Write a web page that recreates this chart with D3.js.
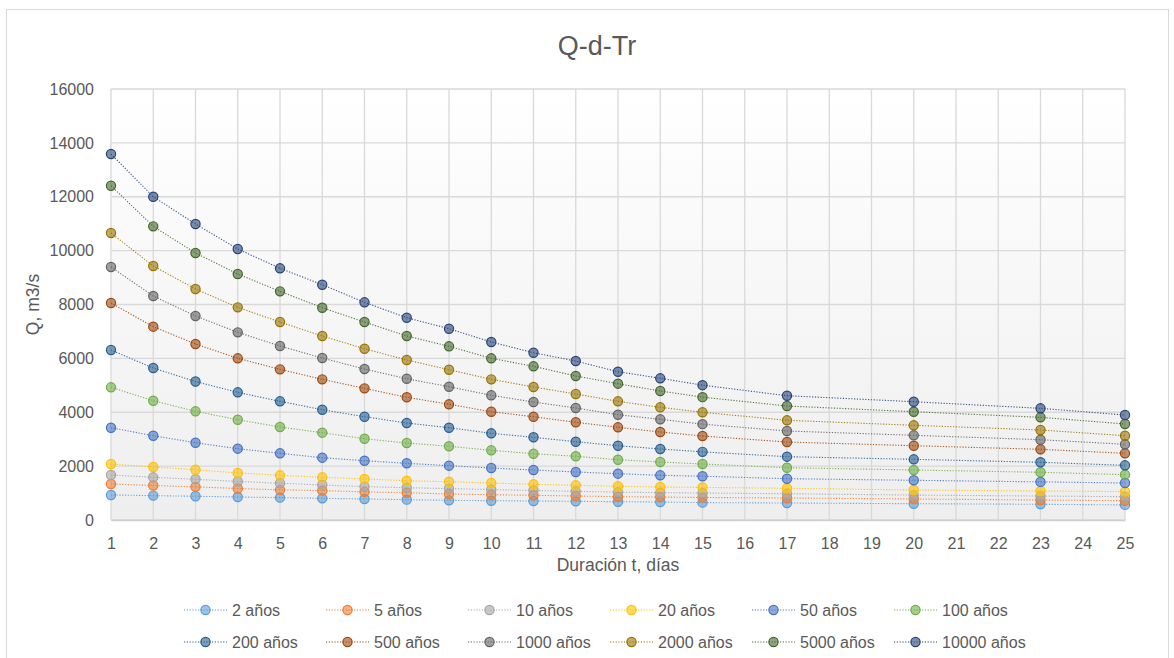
<!DOCTYPE html>
<html>
<head>
<meta charset="utf-8">
<script src="https://cdn.jsdelivr.net/npm/d3@7"></script>
<style>
  html, body { margin: 0; padding: 0; background: #ffffff; }
  svg { display: block; }
  text { font-family: "Liberation Sans", Arial, sans-serif; fill: #595959; }
</style>
</head>
<body>
<svg id="chart" width="1174" height="658"></svg>
<script>
// ---- data ----
const durations = [1, 2, 3, 4, 5, 6, 7, 8, 9, 10, 11, 12, 13, 14, 15, 17, 20, 23, 25];
const seriesNames = ["2 años", "5 años", "10 años", "20 años", "50 años", "100 años",
                     "200 años", "500 años", "1000 años", "2000 años", "5000 años", "10000 años"];
const q2     = [930, 905, 880, 855, 830, 805, 780, 755, 730, 716, 705, 694, 679, 668, 645, 631, 605, 583, 560];
const q5     = [1336, 1280, 1230, 1170, 1120, 1090, 1045, 1013, 965, 939, 917, 891, 865, 854, 835, 817, 780, 742, 716];
const q10    = [1670, 1585, 1511, 1430, 1365, 1299, 1240, 1199, 1165, 1130, 1095, 1065, 1035, 1015, 1000, 975, 925, 890, 865];
const q20    = [2079, 1967, 1867, 1745, 1659, 1585, 1522, 1459, 1422, 1373, 1325, 1288, 1251, 1225, 1210, 1177, 1114, 1076, 1055];
const q50    = [3426, 3129, 2869, 2647, 2476, 2313, 2201, 2105, 2016, 1930, 1856, 1782, 1719, 1659, 1625, 1533, 1474, 1415, 1373];
const q100   = [4926, 4428, 4035, 3723, 3452, 3241, 3018, 2858, 2736, 2587, 2461, 2365, 2238, 2153, 2079, 1941, 1856, 1771, 1682];
const q200   = [6310, 5642, 5140, 4740, 4406, 4094, 3834, 3601, 3426, 3218, 3070, 2906, 2758, 2636, 2530, 2350, 2253, 2142, 2030];
const q500   = [8055, 7176, 6533, 6002, 5593, 5222, 4888, 4555, 4295, 4020, 3834, 3627, 3441, 3267, 3118, 2895, 2758, 2624, 2476];
const q1000  = [9391, 8315, 7572, 6967, 6459, 6013, 5605, 5245, 4948, 4629, 4380, 4157, 3909, 3738, 3558, 3304, 3144, 2981, 2810];
const q2000  = [10653, 9428, 8575, 7895, 7350, 6830, 6359, 5939, 5579, 5222, 4937, 4677, 4406, 4183, 3998, 3701, 3515, 3341, 3129];
const q5000  = [12410, 10902, 9911, 9132, 8489, 7881, 7350, 6830, 6448, 6002, 5705, 5345, 5060, 4788, 4560, 4232, 4020, 3812, 3564];
const q10000 = [13586, 12001, 10988, 10060, 9343, 8735, 8081, 7509, 7101, 6607, 6210, 5902, 5505, 5260, 5005, 4614, 4391, 4146, 3898];
const xTicks = d3.range(1, 26);
const yTicks = [0, 2000, 4000, 6000, 8000, 10000, 12000, 14000, 16000];
const chartTitle = "Q-d-Tr";
const xTitle = "Duración t, días";
const yTitle = "Q, m3/s";
const colors = ["#5B9BD5", "#ED7D31", "#A5A5A5", "#FFC000", "#4472C4", "#70AD47",
                "#255E91", "#9E480E", "#636363", "#997300", "#43682B", "#264478"];

const seriesValues = [q2, q5, q10, q20, q50, q100, q200, q500, q1000, q2000, q5000, q10000];
const series = seriesNames.map((name, i) => ({
  name, color: colors[i],
  points: durations.map((d, j) => ({ x: d, y: seriesValues[i][j] }))
}));

// ---- layout ----
const svg = d3.select("#chart");
const plot = { left: 111, right: 1125, top: 89, bottom: 520 };
const x = d3.scaleLinear().domain([1, 25]).range([plot.left, plot.right]);
const y = d3.scaleLinear().domain([0, 16000]).range([plot.bottom, plot.top]);

// chart border
svg.append("rect").attr("x", 6.5).attr("y", 9.5).attr("width", 1162).attr("height", 660)
  .attr("fill", "#ffffff").attr("stroke", "#d9d9d9").attr("stroke-width", 1);

// plot background gradient
const defs = svg.append("defs");
const grad = defs.append("linearGradient").attr("id", "bg").attr("x1", 0).attr("y1", 0).attr("x2", 0).attr("y2", 1);
grad.append("stop").attr("offset", "0%").attr("stop-color", "#ffffff");
grad.append("stop").attr("offset", "100%").attr("stop-color", "#eeeeee");
svg.append("rect").attr("x", plot.left).attr("y", plot.top)
  .attr("width", plot.right - plot.left).attr("height", plot.bottom - plot.top)
  .attr("fill", "url(#bg)");

// gridlines
const gridColor = "#d9d9d9";
svg.append("g").selectAll("line").data(yTicks).join("line")
  .attr("x1", plot.left).attr("x2", plot.right)
  .attr("y1", d => y(d)).attr("y2", d => y(d))
  .attr("stroke", gridColor).attr("stroke-width", 1.3);
svg.append("g").selectAll("line").data(xTicks).join("line")
  .attr("x1", d => x(d)).attr("x2", d => x(d))
  .attr("y1", plot.top).attr("y2", plot.bottom)
  .attr("stroke", gridColor).attr("stroke-width", 1.3);

// x axis
const xAxis = svg.append("g").attr("transform", `translate(0,${plot.bottom})`)
  .call(d3.axisBottom(x).tickValues(xTicks).tickFormat(d3.format("d")).tickSize(0).tickPadding(18));
xAxis.select(".domain").attr("stroke", "#cfcfcf").attr("stroke-width", 1.5);
xAxis.selectAll("text").attr("font-size", 16).attr("fill", "#595959")
  .attr("font-family", "Liberation Sans, Arial, sans-serif");

// y axis
const yAxis = svg.append("g").attr("transform", `translate(${plot.left},0)`)
  .call(d3.axisLeft(y).tickValues(yTicks).tickFormat(d3.format("d")).tickSize(0).tickPadding(17));
yAxis.select(".domain").remove();
yAxis.selectAll("text").attr("font-size", 16).attr("fill", "#595959")
  .attr("font-family", "Liberation Sans, Arial, sans-serif");

// titles
svg.append("text").attr("x", 597).attr("y", 55).attr("text-anchor", "middle")
  .attr("font-size", 27).text(chartTitle);
svg.append("text").attr("x", (plot.left + plot.right) / 2).attr("y", 571).attr("text-anchor", "middle")
  .attr("font-size", 17.5).text(xTitle);
svg.append("text").attr("transform", `translate(39,${(plot.top + plot.bottom) / 2}) rotate(-90)`)
  .attr("text-anchor", "middle").attr("font-size", 17.5).text(yTitle);

// series
const line = d3.line().x(d => x(d.x)).y(d => y(d.y));
const gSeries = svg.append("g");
series.forEach(s => {
  const g = gSeries.append("g");
  g.append("path").attr("d", line(s.points)).attr("fill", "none")
    .attr("stroke", s.color).attr("stroke-width", 1.1).attr("stroke-dasharray", "1.2,1.6")
    .attr("stroke-opacity", 0.9);
  g.selectAll("circle").data(s.points).join("circle")
    .attr("cx", d => x(d.x)).attr("cy", d => y(d.y)).attr("r", 4.6)
    .attr("fill", s.color).attr("fill-opacity", 0.6)
    .attr("stroke", s.color).attr("stroke-width", 1.2);
});

// legend
const legend = svg.append("g");
series.forEach((s, i) => {
  const col = i % 6, row = Math.floor(i / 6);
  const lx = 184 + col * 142, ly = 610 + row * 32;
  const g = legend.append("g").attr("transform", `translate(${lx},${ly})`);
  g.append("line").attr("x1", 0).attr("x2", 43).attr("y1", 0).attr("y2", 0)
    .attr("stroke", s.color).attr("stroke-width", 1.1).attr("stroke-dasharray", "1.2,1.6");
  g.append("circle").attr("cx", 21.5).attr("cy", 0).attr("r", 4.6)
    .attr("fill", s.color).attr("fill-opacity", 0.6)
    .attr("stroke", s.color).attr("stroke-width", 1.2);
  g.append("text").attr("x", 48).attr("y", 0).attr("dy", "0.35em")
    .attr("font-size", 16).text(s.name);
});
</script>
</body>
</html>
